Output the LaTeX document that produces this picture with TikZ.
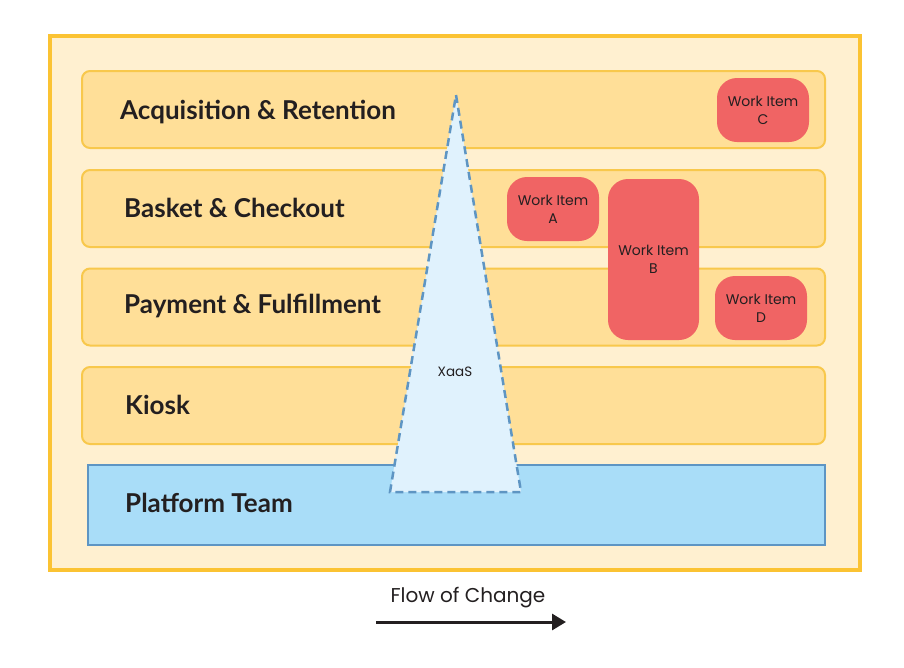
\documentclass[tikz,border=0pt]{standalone}
\usepackage{fontspec}
\setmainfont{Poppins}
\newfontfamily\lanefont{Lato}
\usetikzlibrary{positioning,arrows.meta}
\definecolor{frameline}{HTML}{FBC333}
\definecolor{framefill}{HTML}{FFF0D0}
\definecolor{laneline}{HTML}{F8C84C}
\definecolor{lanefill}{HTML}{FFDF98}
\definecolor{platline}{HTML}{5E95C3}
\definecolor{platfill}{HTML}{A9DDF8}
\definecolor{xaasfill}{HTML}{E0F2FD}
\definecolor{itemfill}{HTML}{F06464}
\definecolor{inkdark}{HTML}{231F20}
\tikzset{
  lane/.style={draw=laneline,fill=lanefill,line width=2pt,rounded corners=8pt,
    minimum width=743pt,minimum height=77pt,inner sep=0pt},
  lanetext/.style={font=\lanefont\fontsize{26}{30}\selectfont\bfseries,text=inkdark,inner sep=0pt},
  workitem/.style={fill=itemfill,rounded corners=20pt,minimum width=92pt,
    inner sep=0pt,align=center,text=inkdark,
    font=\fontsize{14}{18}\selectfont,execute at begin node=\setlength{\baselineskip}{18pt}}
}
\begin{document}
\begin{tikzpicture}[x=1pt,y=-1pt]
  \useasboundingbox (0,0) rectangle (904,667);
  % outer frame
  \draw[draw=frameline,fill=framefill,line width=4pt] (50,36) rectangle (860,570);
  % lanes
  \node[lane] (acq) at (453.5,109.5) {};
  \node[lane] (basket) at (453.5,208.5) {};
  \node[lane] (payment) at (453.5,307) {};
  \node[lane] (kiosk) at (453.5,405.5) {};
  \node[draw=platline,fill=platfill,line width=2pt,minimum width=737pt,
    minimum height=80pt,inner sep=0pt] (platform) at (456.5,505) {};
  \node[lanetext,anchor=west] (acqtext) at (120,112) {Acquisition \& Retention};
  \node[lanetext,anchor=west] (baskettext) at (124,208) {Basket \& Checkout};
  \node[lanetext,anchor=west] (paymenttext) at (124,306) {Payment \& Fulfillment};
  \node[lanetext,anchor=west] (kiosktext) at (125,405) {Kiosk};
  \node[lanetext,anchor=west] (platformtext) at (125,503) {Platform Team};
  % XaaS wedge
  \draw[draw=platline,fill=xaasfill,line width=2.5pt,dash pattern=on 8pt off 5pt]
    (456,95) -- (521,492) -- (390,492) -- cycle;
  \node[font=\fontsize{13.5}{16}\selectfont,text=inkdark] (xaas) at (455,372) {XaaS};
  % work items
  \node[workitem,minimum height=64pt] (itemc) at (763,110) {Work Item\\C};
  \node[workitem,minimum height=64pt] (itema) at (553,209) {Work Item\\A};
  \node[workitem,minimum width=91pt,minimum height=161pt] (itemb) at (653.5,259.5) {Work Item\\B};
  \node[workitem,minimum height=64pt] (itemd) at (761,308) {Work Item\\D};
  % flow
  \node[font=\fontsize{20}{24}\selectfont,text=inkdark] (flow) at (468,598) {Flow of Change};
  \coordinate (flowstart) at (376,622);
  \coordinate (flowend) at (566,622);
  \draw[inkdark,line width=3pt,-{Triangle[length=14pt,width=16pt]}] (flowstart) -- (flowend);
\end{tikzpicture}
\end{document}
